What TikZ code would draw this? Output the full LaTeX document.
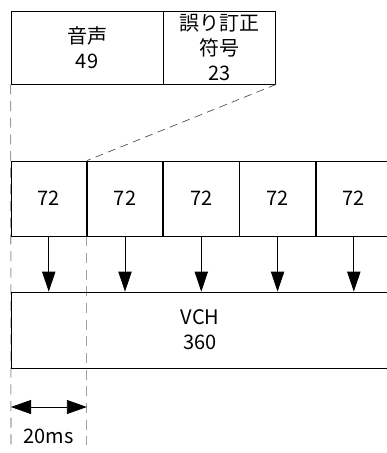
\documentclass[tikz,border=0pt]{standalone}
\usepackage{fontspec}
\setmainfont{Noto Sans CJK JP}
\usepackage{tikz}
\usetikzlibrary{arrows.meta, positioning, backgrounds}

\begin{document}
\begin{tikzpicture}[
    x=0.75pt,
    y=-0.75pt,
    font=\fontsize{15pt}{18.75pt}\selectfont,
    box/.style={draw, line width=0.6pt, inner sep=0pt, align=center},
    cellbox/.style={box, minimum width=56.6pt, minimum height=56.25pt},
    guide/.style={draw=black!38, line width=0.8pt, dash pattern=on 7.5pt off 5pt},
    slant/.style={draw=black!70, line width=0.5pt, dash pattern=on 6pt off 4pt},
    down/.style={line width=0.6pt, -{Triangle[length=15pt, width=10pt]}},
    dimarrow/.style={line width=0.6pt, {Triangle[length=15pt, width=10.5pt]}-{Triangle[length=15pt, width=10.5pt]}}
]

% picture size
\useasboundingbox (0,0) rectangle (386,453);

% frame: voice + error correction
\node[box, minimum width=114pt, minimum height=54.75pt] (voice) at (87,47.5) {音声\\49};
\node[box, minimum width=84pt, minimum height=54.75pt, right=0pt of voice] (ecc) {誤り訂正\\符号\\23};

% five 72-bit blocks (last one runs off the edge)
\node[cellbox] (cell1) at (48.75,198.5) {72};
\node[cellbox, right=0pt of cell1] (cell2) {72};
\node[cellbox, right=0pt of cell2] (cell3) {72};
\node[cellbox, right=0pt of cell3] (cell4) {72};
\node[cellbox, right=0pt of cell4] (cell5) {72};

% VCH
\node[box, minimum width=283.5pt, minimum height=57pt] (vch) at (200,330) {VCH\\360};

% arrows down into VCH
\draw[down] (cell1.south) -- (cell1.south |- vch.north);
\draw[down] (cell2.south) -- (cell2.south |- vch.north);
\draw[down] (cell3.south) -- (cell3.south |- vch.north);
\draw[down] (cell4.south) -- (cell4.south |- vch.north);
\draw[down] (cell5.south) -- (cell5.south |- vch.north);

% guide lines
\coordinate (lbot) at (11,445);
\coordinate (mbot) at (cell2.west |- lbot);
\begin{scope}[on background layer]
\draw[guide] (voice.south west) -- (lbot);
\draw[guide] (cell2.south west) -- (mbot);
\end{scope}
\draw[slant] (ecc.south east) -- (cell2.north west);

% 20ms span
\coordinate (dimL) at (11,407);
\coordinate (dimR) at (cell2.west |- dimL);
\draw[dimarrow] (dimL) -- (dimR);
\node (span) at (48.75,436) {20ms};

\end{tikzpicture}
\end{document}
